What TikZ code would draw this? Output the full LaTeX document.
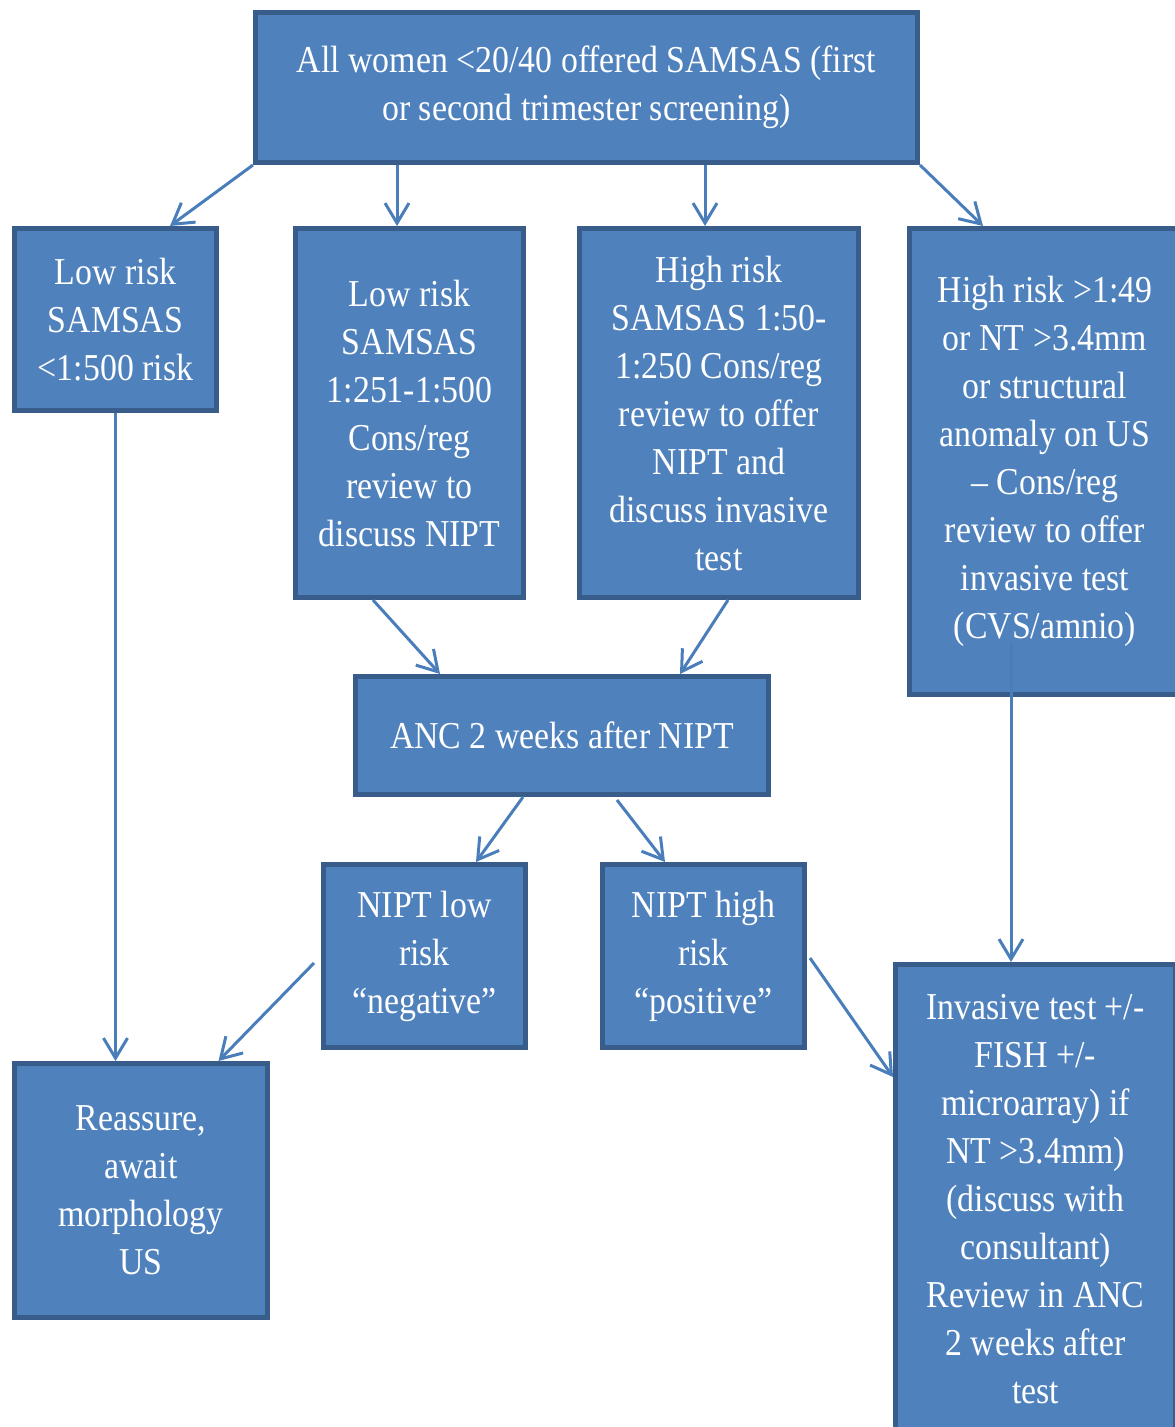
\documentclass[tikz,border=0pt]{standalone}
\usepackage{fontspec}
\setmainfont{Liberation Serif}[FakeStretch=0.89]
\usepackage{xcolor}
\usepackage{tikz}
\usetikzlibrary{arrows.meta,calc,positioning}
\definecolor{boxfill}{HTML}{4F81BD}
\definecolor{boxline}{HTML}{385D8A}
\definecolor{arrowline}{HTML}{4A7EBB}
\tikzset{
  flowbox/.style={rectangle, draw=boxline, line width=5pt, fill=boxfill, text=white, align=center, inner sep=0pt, font=\fontsize{38}{48}\selectfont},
  flowarrow/.style={draw=arrowline, line width=3pt, -{Straight Barb[length=20pt,width=24pt]}}
}

\begin{document}
\begin{tikzpicture}[x=1pt,y=-1pt]
  \path[use as bounding box, clip] (0,0) rectangle (1175,1427);
  % boxes
  \node[flowbox, minimum width=662pt, minimum height=150pt] (top) at (586.5,87.5)
    {All women <20/40 offered SAMSAS (first\\or second trimester screening)};
  \node[flowbox, minimum width=202pt, minimum height=182pt] (lowa) at (115.5,319.5)
    {Low risk\\SAMSAS\\<1:500 risk};
  \node[flowbox, minimum width=228pt, minimum height=369pt] (lowb) at (409.5,413)
    {Low risk\\SAMSAS\\1:251-1:500\\Cons/reg\\review to\\discuss NIPT};
  \node[flowbox, minimum width=279pt, minimum height=369pt] (highc) at (719,413)
    {High risk\\SAMSAS 1:50-\\1:250 Cons/reg\\review to offer\\NIPT and\\discuss invasive\\test};
  \node[flowbox, minimum width=271pt, minimum height=466pt] (highd) at (1045,461.5)
    {High risk >1:49\\or NT >3.4mm\\or structural\\anomaly on US\\– Cons/reg\\review to offer\\invasive test\\(CVS/amnio)};
  \node[flowbox, minimum width=413pt, minimum height=118pt] (anc) at (562,735.5)
    {ANC 2 weeks after NIPT};
  \node[flowbox, minimum width=202pt, minimum height=183pt] (nlow) at (424.5,956)
    {NIPT low\\risk\\“negative”};
  \node[flowbox, minimum width=202pt, minimum height=183pt] (nhigh) at (703.5,956)
    {NIPT high\\risk\\“positive”};
  \node[flowbox, minimum width=253pt, minimum height=254pt] (reass) at (141,1190.5)
    {Reassure,\\await\\morphology\\US};
  \node[flowbox, minimum width=280pt, minimum height=469pt] (inv) at (1035.5,1199)
    {Invasive test +/-\\FISH +/-\\microarray) if\\NT >3.4mm)\\(discuss with\\consultant)\\Review in ANC\\2 weeks after\\test};
  % arrows
  \draw[flowarrow] (top.south west) -- ([xshift=-49pt]lowa.north east);
  \draw[flowarrow] ([xshift=-189.5pt]top.south) -- ([xshift=-12.5pt]lowb.north);
  \draw[flowarrow] ([xshift=118.5pt]top.south) -- ([xshift=-14pt]highc.north);
  \draw[flowarrow] (top.south east) -- ([xshift=-62pt]highd.north);
  \draw[flowarrow] ([xshift=-36.5pt]lowb.south) -- ([xshift=-122pt]anc.north);
  \draw[flowarrow] ([xshift=9pt]highc.south) -- ([xshift=118pt]anc.north);
  \draw[flowarrow] ([xshift=-39pt]anc.south) -- ([xshift=51.5pt]nlow.north);
  \draw[flowarrow] ([xshift=55pt,yshift=-3pt]anc.south) -- ([xshift=-38.5pt]nhigh.north);
  \draw[flowarrow] (lowa.south) -- ([xshift=-25.5pt]reass.north);
  \draw[flowarrow] ([xshift=-7pt,yshift=-7pt]nlow.west) -- ([xshift=-51.5pt]reass.north east);
  \draw[flowarrow] ([xshift=3pt,yshift=-2pt]nhigh.east) -- ([yshift=122pt]inv.west);
  \draw[flowarrow] ([xshift=-34pt,yshift=55pt]highd.south) -- ([xshift=-24.5pt]inv.north);
\end{tikzpicture}
\end{document}
